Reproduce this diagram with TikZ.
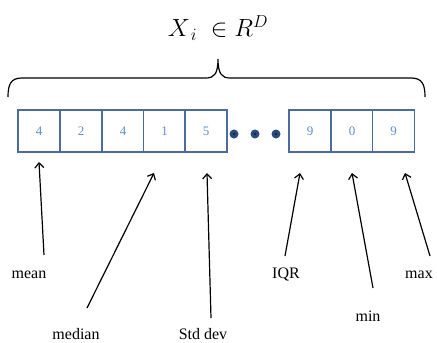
\documentclass[tikz,border=0pt]{standalone}
\usepackage{amsmath,amssymb}
\usepackage{fontspec}
\setmainfont{Liberation Serif}
\usepackage{tikz}
\usetikzlibrary{arrows.meta,positioning,calc}
\usepackage{xcolor}
\definecolor{CellBorder}{HTML}{4A6B9C}
\definecolor{CellText}{HTML}{5E8FD2}
\definecolor{DotBlue}{HTML}{2B4A7C}

\begin{document}
\begin{tikzpicture}[x=1pt,y=-1pt,
    cell/.style={rectangle,draw=CellBorder,line width=1.3pt,fill=white,
                 minimum width=42pt,minimum height=42pt,inner sep=0pt,
                 text=CellText,font=\fontsize{13}{15}\selectfont},
    dotc/.style={circle,fill=DotBlue,minimum size=9pt,inner sep=0pt},
    lbl/.style={font=\fontsize{16}{18}\selectfont,inner sep=0pt,anchor=base},
    pointer/.style={-{Straight Barb[length=5pt,width=9pt]},line width=1.2pt,black}]
        \useasboundingbox (0,0) rectangle (437,343);
        % title and brace
        \node[font=\fontsize{27}{30}\selectfont] (title) at (218,28)
          {$X_{\,i}\;\in R^{D}$};
        \coordinate (braceL) at (8,97);
        \coordinate (braceR) at (425,97);
        \coordinate (braceTip) at (218,59);
        \draw[line width=1.2pt]
          (braceL) .. controls (8,84) and (11,78) .. (22,78)
          -- (206,78) .. controls (214,78) and (218,74) .. (braceTip)
          .. controls (218,74) and (222,78) .. (230,78)
          -- (411,78) .. controls (422,78) and (425,84) .. (braceR);
        % the vector cells
        \node[cell] (c1) at (39,131) {4};
        \node[cell] (c2) at (81,131) {2};
        \node[cell] (c3) at (123,131) {4};
        \node[cell] (c4) at (164.5,131) {1};
        \node[cell] (c5) at (206,131) {5};
        \node[dotc] (d1) at (234,134) {};
        \node[dotc] (d2) at (255,134) {};
        \node[dotc] (d3) at (276,134) {};
        \fill[black] (d1) circle (0.9) (d2) circle (0.9) (d3) circle (0.9);
        \node[cell] (c6) at (310,131) {9};
        \node[cell] (c7) at (352,131) {0};
        \node[cell] (c8) at (393.5,131) {9};
        % statistics labels
        \node[lbl] (mean) at (29,278) {mean};
        \node[lbl] (median) at (76,339) {median};
        \node[lbl] (std) at (203,339) {Std dev};
        \node[lbl] (iqr) at (286,278) {IQR};
        \node[lbl] (min) at (368,321) {min};
        \node[lbl] (max) at (419,278) {max};
        % arrow ends
        \coordinate (meanT) at (44,255);   \coordinate (meanH) at (39,162);
        \coordinate (medianT) at (87,308); \coordinate (medianH) at (154,173);
        \coordinate (stdT) at (211,318);   \coordinate (stdH) at (207,173);
        \coordinate (iqrT) at (285,256);   \coordinate (iqrH) at (300,173);
        \coordinate (minT) at (373,288);   \coordinate (minH) at (352,173);
        \coordinate (maxT) at (430,256);   \coordinate (maxH) at (405,173);
        \draw[pointer] (meanT) -- (meanH);
        \draw[pointer] (medianT) -- (medianH);
        \draw[pointer] (stdT) -- (stdH);
        \draw[pointer] (iqrT) -- (iqrH);
        \draw[pointer] (minT) -- (minH);
        \draw[pointer] (maxT) -- (maxH);
      \end{tikzpicture}
\end{document}
